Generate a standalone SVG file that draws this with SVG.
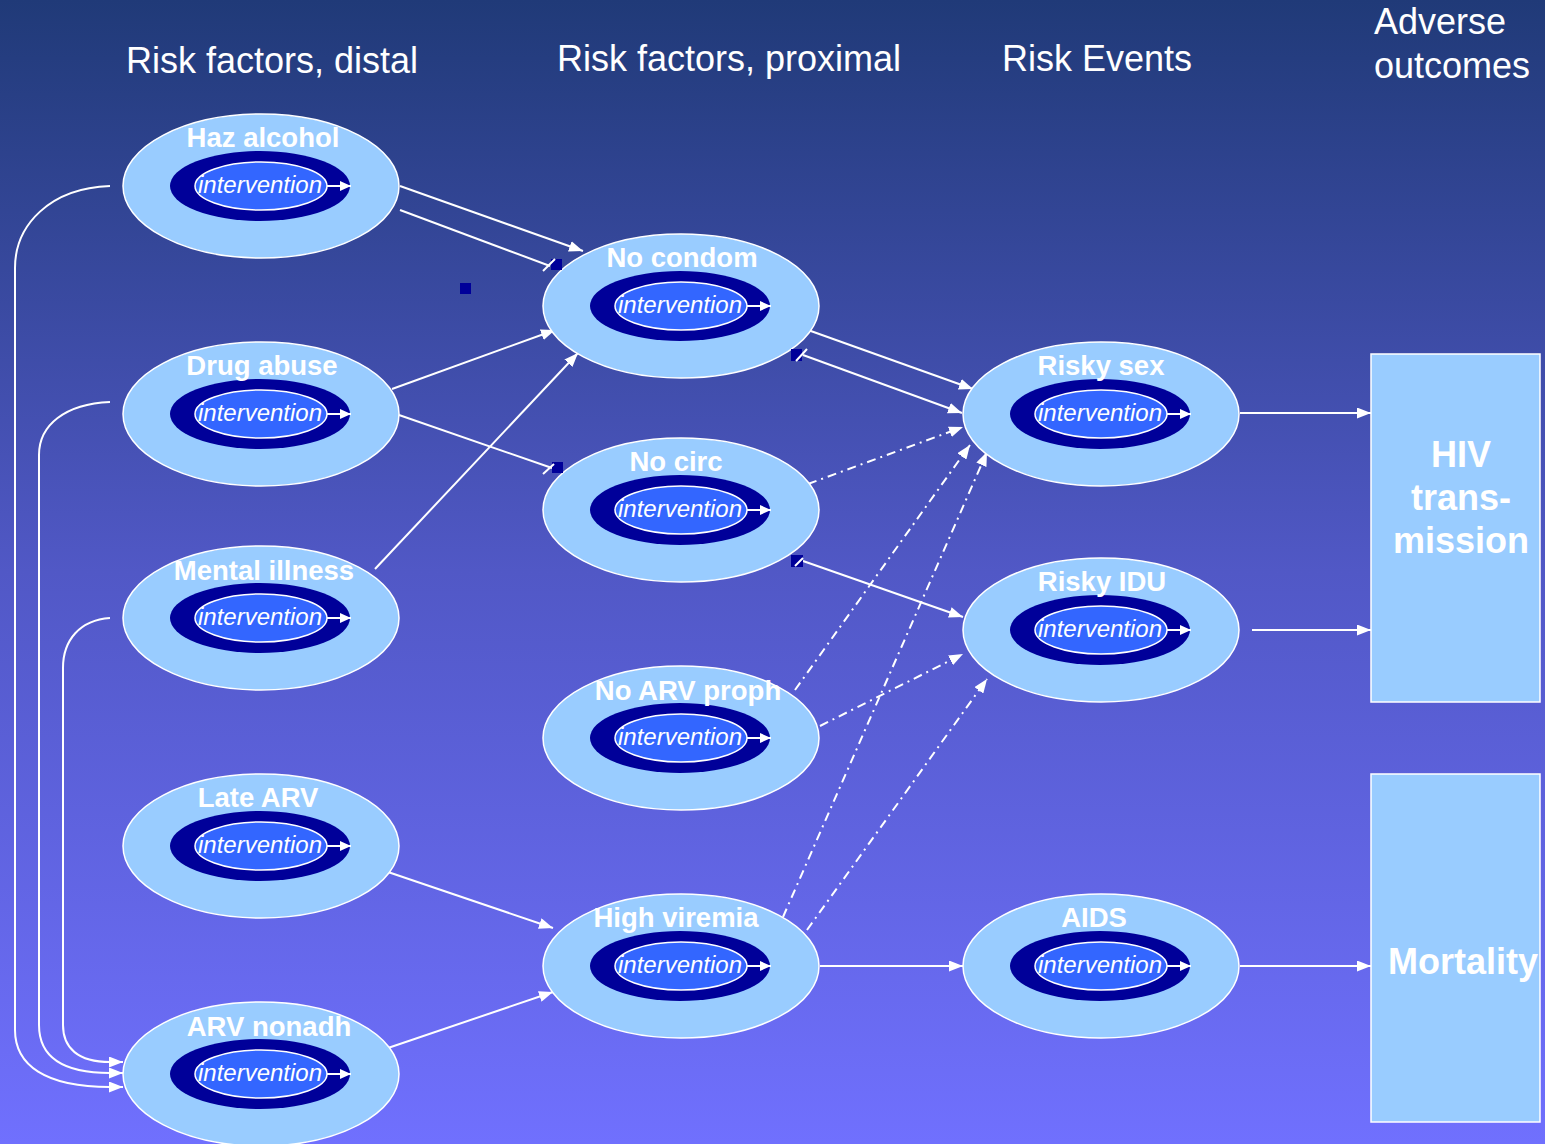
<svg xmlns="http://www.w3.org/2000/svg" width="1545" height="1144" viewBox="0 0 1545 1144">
<defs>
<linearGradient id="bg" x1="0" y1="0" x2="0" y2="1">
<stop offset="0" stop-color="#203a78"/>
<stop offset="0.5" stop-color="#5158c6"/>
<stop offset="1" stop-color="#7070fe"/>
</linearGradient>
<marker id="ah" viewBox="0 0 14 11" refX="14" refY="5.5" markerWidth="14" markerHeight="11" markerUnits="userSpaceOnUse" orient="auto"><path d="M0,0 L14,5.5 L0,11 z" fill="#fff"/></marker>
<marker id="ahs" viewBox="0 0 11 10" refX="11" refY="5" markerWidth="11" markerHeight="10" markerUnits="userSpaceOnUse" orient="auto"><path d="M0,0 L11,5 L0,10 z" fill="#fff"/></marker>
</defs>
<style>
.outer{fill:#99ccff;stroke:#fff;stroke-width:1.5}
.dark{fill:#000099}
.inner{fill:#3366ff;stroke:#fff;stroke-width:1.5}
.lbl{font-family:"Liberation Sans",Arial,sans-serif;font-weight:bold;font-size:27.5px;fill:#fff;text-anchor:middle}
.int{font-family:"Liberation Sans",Arial,sans-serif;font-style:italic;font-size:24px;fill:#fff;text-anchor:middle}
.hdr{font-family:"Liberation Sans",Arial,sans-serif;font-size:36px;fill:#fff}
.big{font-family:"Liberation Sans",Arial,sans-serif;font-weight:bold;font-size:36px;fill:#fff;text-anchor:middle}
.box{fill:#99ccff;stroke:#fff;stroke-width:1.5}
.c{stroke:#fff;stroke-width:2;fill:none}
.ca{stroke:#fff;stroke-width:2;fill:none;marker-end:url(#ah)}
.dd{stroke:#fff;stroke-width:2;fill:none;stroke-dasharray:9,5,2,5;marker-end:url(#ah)}
.ia{stroke:#fff;stroke-width:2;marker-end:url(#ahs)}
.sq{fill:#000099}
</style>
<rect x="0" y="0" width="1545" height="1144" fill="url(#bg)"/>

<g id="headers">
<text class="hdr" x="126" y="73">Risk factors, distal</text>
<text class="hdr" x="557" y="71">Risk factors, proximal</text>
<text class="hdr" x="1002" y="71">Risk Events</text>
<text class="hdr" x="1374" y="34">Adverse</text>
<text class="hdr" x="1374" y="78">outcomes</text>
</g>

<g id="connectors">
<path class="c" d="M110,186 C50,188 15,225 15,268 L15,1030 C15,1065 45,1087 110,1087"/>
<path class="ca" d="M110,1087 L123,1087"/>
<path class="c" d="M110,402 C65,404 39,425 39,455 L39,1025 C39,1055 60,1073 110,1073"/>
<path class="ca" d="M110,1073 L123,1073"/>
<path class="c" d="M110,618 C80,620 63,640 63,668 L63,1025 C63,1048 78,1062 110,1062"/>
<path class="ca" d="M110,1062 L123,1062"/>

<line class="ca" x1="400" y1="186" x2="583" y2="251"/>
<line class="c" x1="400" y1="210" x2="550" y2="266"/>
<line class="ca" x1="392" y1="389" x2="555" y2="330"/>
<line class="c" x1="399" y1="415" x2="552" y2="468"/>
<line class="ca" x1="375" y1="569" x2="578" y2="353"/>
<line class="ca" x1="808" y1="330" x2="973" y2="389"/>
<line class="ca" x1="803" y1="355" x2="962" y2="413"/>
<line class="ca" x1="803" y1="561" x2="963" y2="617"/>
<line class="ca" x1="388" y1="872" x2="553" y2="928"/>
<line class="ca" x1="388" y1="1048" x2="553" y2="992"/>
<line class="ca" x1="820" y1="966" x2="963" y2="966"/>
<line class="ca" x1="1240" y1="413" x2="1371" y2="413"/>
<line class="ca" x1="1252" y1="630" x2="1371" y2="630"/>
<line class="ca" x1="1240" y1="966" x2="1371" y2="966"/>

<line class="dd" x1="808" y1="484" x2="963" y2="427"/>
<line class="dd" x1="795" y1="690" x2="970" y2="445"/>
<line class="dd" x1="783" y1="917" x2="987" y2="452"/>
<line class="dd" x1="820" y1="726" x2="963" y2="654"/>
<line class="dd" x1="807" y1="930" x2="987" y2="679"/>
</g>

<g id="n-haz">
<ellipse class="outer" cx="261" cy="186" rx="138" ry="72"/>
<ellipse class="dark" cx="260" cy="186" rx="90" ry="35"/>
<ellipse class="inner" cx="261" cy="186" rx="66" ry="24"/>
<line class="ia" x1="327" y1="186" x2="351" y2="186"/>
<text class="lbl" x="263" y="147">Haz alcohol</text>
<text class="int" x="260" y="193">intervention</text>
</g>
<g id="n-drug">
<ellipse class="outer" cx="261" cy="414" rx="138" ry="72"/>
<ellipse class="dark" cx="260" cy="414" rx="90" ry="35"/>
<ellipse class="inner" cx="261" cy="414" rx="66" ry="24"/>
<line class="ia" x1="327" y1="414" x2="351" y2="414"/>
<text class="lbl" x="262" y="375">Drug abuse</text>
<text class="int" x="260" y="421">intervention</text>
</g>
<g id="n-mental">
<ellipse class="outer" cx="261" cy="618" rx="138" ry="72"/>
<ellipse class="dark" cx="260" cy="618" rx="90" ry="35"/>
<ellipse class="inner" cx="261" cy="618" rx="66" ry="24"/>
<line class="ia" x1="327" y1="618" x2="351" y2="618"/>
<text class="lbl" x="264" y="580">Mental illness</text>
<text class="int" x="260" y="625">intervention</text>
</g>
<g id="n-late">
<ellipse class="outer" cx="261" cy="846" rx="138" ry="72"/>
<ellipse class="dark" cx="260" cy="846" rx="90" ry="35"/>
<ellipse class="inner" cx="261" cy="846" rx="66" ry="24"/>
<line class="ia" x1="327" y1="846" x2="351" y2="846"/>
<text class="lbl" x="258" y="807">Late ARV</text>
<text class="int" x="260" y="853">intervention</text>
</g>
<g id="n-nonadh">
<ellipse class="outer" cx="261" cy="1074" rx="138" ry="72"/>
<ellipse class="dark" cx="260" cy="1074" rx="90" ry="35"/>
<ellipse class="inner" cx="261" cy="1074" rx="66" ry="24"/>
<line class="ia" x1="327" y1="1074" x2="351" y2="1074"/>
<text class="lbl" x="269" y="1036">ARV nonadh</text>
<text class="int" x="260" y="1081">intervention</text>
</g>

<g id="n-condom">
<ellipse class="outer" cx="681" cy="306" rx="138" ry="72"/>
<ellipse class="dark" cx="680" cy="306" rx="90" ry="35"/>
<ellipse class="inner" cx="681" cy="306" rx="66" ry="24"/>
<line class="ia" x1="747" y1="306" x2="771" y2="306"/>
<text class="lbl" x="682" y="267">No condom</text>
<text class="int" x="680" y="313">intervention</text>
</g>
<g id="n-circ">
<ellipse class="outer" cx="681" cy="510" rx="138" ry="72"/>
<ellipse class="dark" cx="680" cy="510" rx="90" ry="35"/>
<ellipse class="inner" cx="681" cy="510" rx="66" ry="24"/>
<line class="ia" x1="747" y1="510" x2="771" y2="510"/>
<text class="lbl" x="676" y="471">No circ</text>
<text class="int" x="680" y="517">intervention</text>
</g>
<g id="n-arvproph">
<ellipse class="outer" cx="681" cy="738" rx="138" ry="72"/>
<ellipse class="dark" cx="680" cy="738" rx="90" ry="35"/>
<ellipse class="inner" cx="681" cy="738" rx="66" ry="24"/>
<line class="ia" x1="747" y1="738" x2="771" y2="738"/>
<text class="lbl" x="688" y="700">No ARV proph</text>
<text class="int" x="680" y="745">intervention</text>
</g>
<g id="n-viremia">
<ellipse class="outer" cx="681" cy="966" rx="138" ry="72"/>
<ellipse class="dark" cx="680" cy="966" rx="90" ry="35"/>
<ellipse class="inner" cx="681" cy="966" rx="66" ry="24"/>
<line class="ia" x1="747" y1="966" x2="771" y2="966"/>
<text class="lbl" x="676" y="927">High viremia</text>
<text class="int" x="680" y="973">intervention</text>
</g>

<g id="n-sex">
<ellipse class="outer" cx="1101" cy="414" rx="138" ry="72"/>
<ellipse class="dark" cx="1100" cy="414" rx="90" ry="35"/>
<ellipse class="inner" cx="1101" cy="414" rx="66" ry="24"/>
<line class="ia" x1="1167" y1="414" x2="1191" y2="414"/>
<text class="lbl" x="1101" y="375">Risky sex</text>
<text class="int" x="1100" y="421">intervention</text>
</g>
<g id="n-idu">
<ellipse class="outer" cx="1101" cy="630" rx="138" ry="72"/>
<ellipse class="dark" cx="1100" cy="630" rx="90" ry="35"/>
<ellipse class="inner" cx="1101" cy="630" rx="66" ry="24"/>
<line class="ia" x1="1167" y1="630" x2="1191" y2="630"/>
<text class="lbl" x="1102" y="591">Risky IDU</text>
<text class="int" x="1100" y="637">intervention</text>
</g>
<g id="n-aids">
<ellipse class="outer" cx="1101" cy="966" rx="138" ry="72"/>
<ellipse class="dark" cx="1100" cy="966" rx="90" ry="35"/>
<ellipse class="inner" cx="1101" cy="966" rx="66" ry="24"/>
<line class="ia" x1="1167" y1="966" x2="1191" y2="966"/>
<text class="lbl" x="1094" y="927">AIDS</text>
<text class="int" x="1100" y="973">intervention</text>
</g>

<g id="n-hiv">
<rect class="box" x="1371" y="354" width="169" height="348"/>
<text class="big" x="1461" y="467">HIV</text>
<text class="big" x="1461" y="510">trans-</text>
<text class="big" x="1461" y="553">mission</text>
</g>
<g id="n-mortality">
<rect class="box" x="1371" y="774" width="169" height="348"/>
<text class="big" x="1463" y="974">Mortality</text>
</g>

<g id="handles">
<rect class="sq" x="551" y="259" width="11" height="11"/>
<line class="c" x1="543" y1="271" x2="555" y2="259"/>
<rect class="sq" x="460" y="283" width="11" height="11"/>
<rect class="sq" x="552" y="462" width="11" height="11"/>
<line class="c" x1="543" y1="474" x2="554" y2="464"/>
<rect class="sq" x="791" y="349" width="11" height="12"/>
<line class="c" x1="796" y1="361" x2="807" y2="349"/>
<rect class="sq" x="791" y="555" width="12" height="12"/>
<line class="c" x1="795" y1="566" x2="803" y2="558"/>
</g>
</svg>
